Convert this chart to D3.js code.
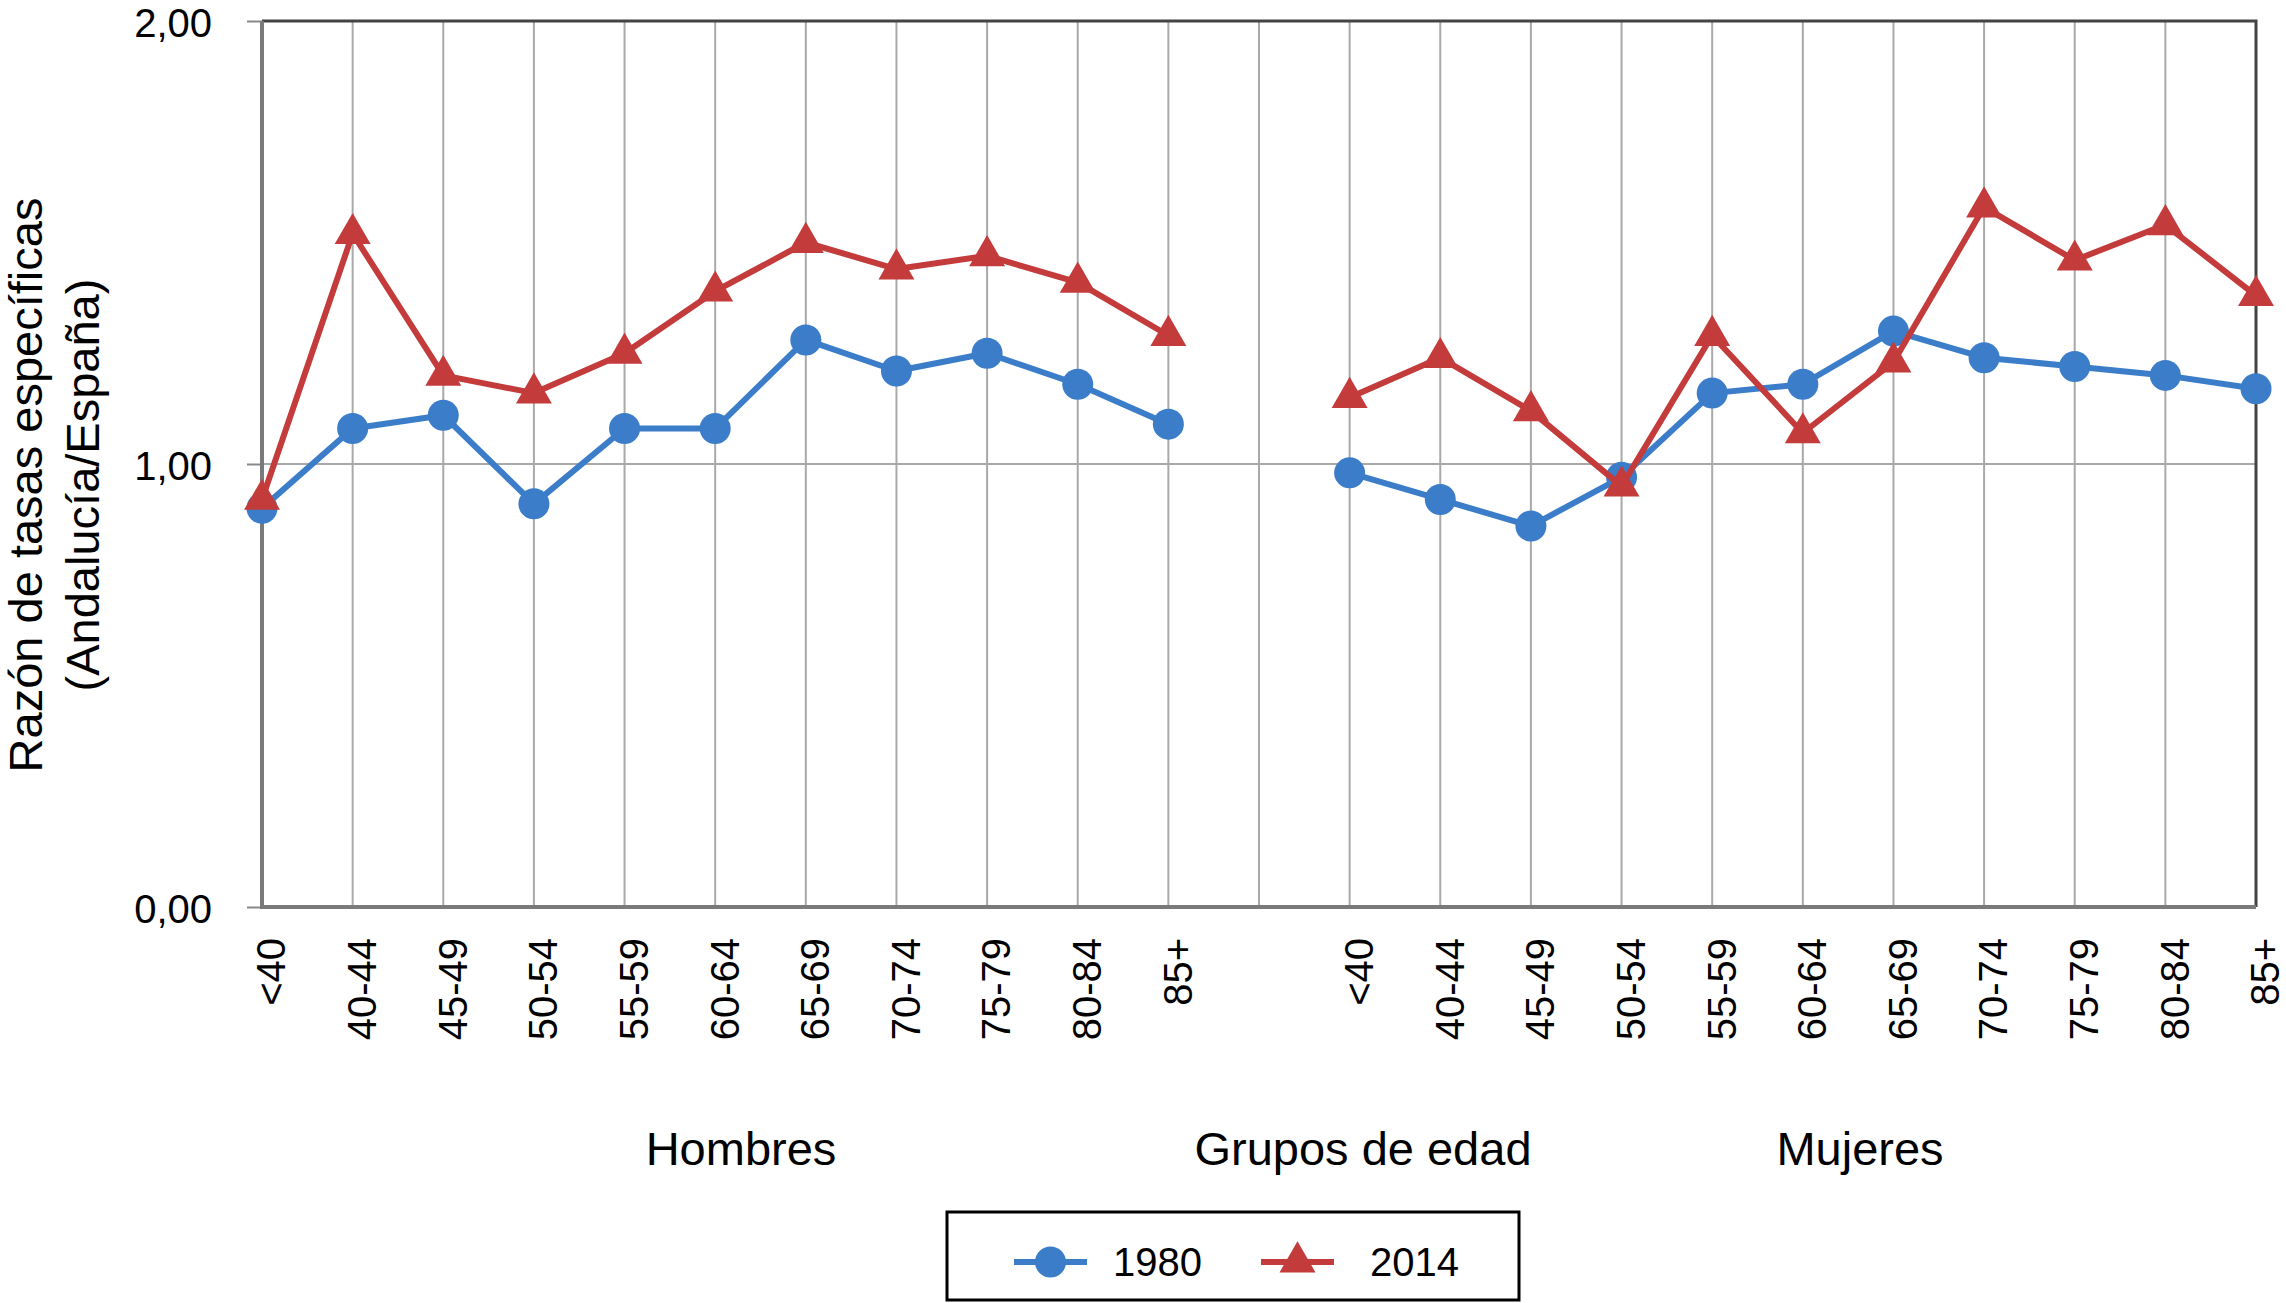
<!DOCTYPE html>
<html>
<head>
<meta charset="utf-8">
<script src="https://cdnjs.cloudflare.com/ajax/libs/d3/7.8.5/d3.min.js"></script>
<style>
  body { margin: 0; background: #fff; }
  svg { display: block; font-family: "Liberation Sans", Arial, Helvetica, sans-serif; }
</style>
</head>
<body>
<div class="canva"></div>
<script>
// age groups (same for both sexes)
const ageGroups = ["<40", "40-44", "45-49", "50-54", "55-59", "60-64", "65-69", "70-74", "75-79", "80-84", "85+"];

// ratio Andalucía / España
const hombres1980 = [0.90, 1.08, 1.11, 0.91, 1.08, 1.08, 1.28, 1.21, 1.25, 1.18, 1.09];
const hombres2014 = [0.92, 1.52, 1.20, 1.16, 1.25, 1.39, 1.50, 1.44, 1.47, 1.41, 1.29];
const mujeres1980 = [0.98, 0.92, 0.86, 0.97, 1.16, 1.18, 1.30, 1.24, 1.22, 1.20, 1.17];
const mujeres2014 = [1.15, 1.24, 1.12, 0.95, 1.29, 1.07, 1.23, 1.58, 1.46, 1.54, 1.38];

const yTicks = [0, 1, 2];
const groupLabels = ["Hombres", "Grupos de edad", "Mujeres"];
const years = ["1980", "2014"];

const blue = "#3b7dc9";
const red = "#c43b3b";

const width = 2286, height = 1303;
const margin = {top: 21, right: 30, bottom: 396, left: 262};
const graphWidth = width - margin.left - margin.right;
const graphHeight = height - margin.top - margin.bottom;

const svg = d3.select(".canva").append("svg")
    .attr("width", width)
    .attr("height", height);

const mainCanvas = svg.append("g")
    .attr("transform", `translate(${margin.left}, ${margin.top})`);

// one empty slot between the two sexes
const keys = ageGroups.map(a => "H" + a).concat(["gap"], ageGroups.map(a => "M" + a));

const x = d3.scalePoint()
    .domain(keys)
    .range([0, graphWidth])
    .padding(0);

const y = d3.scaleLinear()
    .domain([0, 2])
    .range([graphHeight, 0]);

// vertical gridlines
mainCanvas.selectAll(".vgrid")
    .data(keys)
    .enter()
    .append("line")
    .attr("x1", d => x(d))
    .attr("x2", d => x(d))
    .attr("y1", 0)
    .attr("y2", graphHeight)
    .attr("stroke", "#a9a9a9")
    .attr("stroke-width", 2);

// horizontal gridline at 1,00
mainCanvas.append("line")
    .attr("x1", 0)
    .attr("x2", graphWidth)
    .attr("y1", y(1))
    .attr("y2", y(1))
    .attr("stroke", "#a9a9a9")
    .attr("stroke-width", 2);

// top & right frame
mainCanvas.append("path")
    .attr("d", `M0,${y(2)}H${graphWidth}V${graphHeight}`)
    .attr("fill", "none")
    .attr("stroke", "#444")
    .attr("stroke-width", 3);

// Y axis
const yAxis = d3.axisLeft(y)
    .tickValues(yTicks)
    .tickSize(15)
    .tickPadding(35)
    .tickFormat(d => d3.format(".2f")(d).replace(".", ","));

const yAxisG = mainCanvas.append("g").call(yAxis);
yAxisG.select(".domain").remove();
yAxisG.selectAll(".tick line").attr("stroke", "#888").attr("stroke-width", 2);
yAxisG.selectAll(".tick text")
    .attr("font-size", "40px")
    .attr("fill", "#000")
    .attr("dy", "0.38em")
    .attr("font-family", "Liberation Sans, Arial, sans-serif");

// left and bottom axis lines
mainCanvas.append("path")
    .attr("d", `M0,0V${graphHeight}H${graphWidth}`)
    .attr("fill", "none")
    .attr("stroke", "#7a7a7a")
    .attr("stroke-width", 4);

// X tick labels, rotated
mainCanvas.selectAll(".xlabel")
    .data(keys.filter(k => k !== "gap"))
    .enter()
    .append("text")
    .attr("transform", d => `translate(${x(d) + 9}, ${graphHeight + 31}) rotate(-90)`)
    .attr("text-anchor", "end")
    .attr("dy", "0.36em")
    .attr("font-size", "40px")
    .text(d => d.slice(1));

// lines + markers
const valueLine = d3.line()
    .x(d => x(d.key))
    .y(d => y(d.value));

const series = [
    {year: "1980", sex: "H", values: hombres1980, color: blue, shape: "circle"},
    {year: "1980", sex: "M", values: mujeres1980, color: blue, shape: "circle"},
    {year: "2014", sex: "H", values: hombres2014, color: red, shape: "triangle"},
    {year: "2014", sex: "M", values: mujeres2014, color: red, shape: "triangle"}
];

const circleSym = d3.symbol().type(d3.symbolCircle).size(Math.PI * 15.5 * 15.5);
const triSym = d3.symbol().type(d3.symbolTriangle).size(560);

series.forEach(s => {
    const pts = s.values.map((v, i) => ({key: s.sex + ageGroups[i], value: v}));
    mainCanvas.append("path")
        .datum(pts)
        .attr("d", valueLine)
        .attr("fill", "none")
        .attr("stroke", s.color)
        .attr("stroke-width", 6)
        .attr("stroke-linejoin", "round");

    mainCanvas.selectAll(null)
        .data(pts)
        .enter()
        .append("path")
        .attr("transform", d => `translate(${x(d.key)}, ${y(d.value)})`)
        .attr("d", s.shape === "circle" ? circleSym() : triSym())
        .attr("fill", s.color);
});

// Y axis title
const yTitle = svg.append("g")
    .attr("transform", `translate(0, 485) rotate(-90)`);
yTitle.append("text")
    .attr("x", 0).attr("y", 42)
    .attr("text-anchor", "middle")
    .attr("font-size", "47px")
    .text("Razón de tasas específicas");
yTitle.append("text")
    .attr("x", 0).attr("y", 99)
    .attr("text-anchor", "middle")
    .attr("font-size", "47px")
    .text("(Andalucía/España)");

// group labels below the axis
const groupX = [741, 1363, 1860];
svg.selectAll(".group")
    .data(groupLabels)
    .enter()
    .append("text")
    .attr("x", (d, i) => groupX[i])
    .attr("y", 1165)
    .attr("text-anchor", "middle")
    .attr("font-size", "47px")
    .text(d => d);

// Legend
const legend = svg.append("g").attr("transform", "translate(947, 1212)");
legend.append("rect")
    .attr("width", 572)
    .attr("height", 88)
    .attr("fill", "#fff")
    .attr("stroke", "#000")
    .attr("stroke-width", 3);

const legendItems = [
    {label: years[0], color: blue, shape: "circle", x0: 67, tx: 99},
    {label: years[1], color: red, shape: "triangle", x0: 314, tx: 109}
];
legendItems.forEach(it => {
    const g = legend.append("g").attr("transform", `translate(${it.x0}, 50)`);
    g.append("line")
        .attr("x1", 0).attr("x2", 73)
        .attr("stroke", it.color)
        .attr("stroke-width", 6);
    g.append("path")
        .attr("transform", "translate(36.5, 0)")
        .attr("d", it.shape === "circle" ? circleSym() : triSym())
        .attr("fill", it.color);
    g.append("text")
        .attr("x", it.tx)
        .attr("y", 14)
        .attr("font-size", "40px")
        .text(it.label);
});
</script>
</body>
</html>
